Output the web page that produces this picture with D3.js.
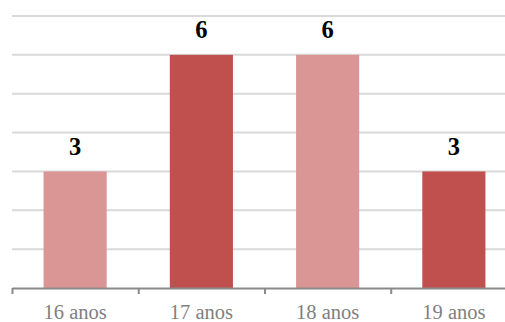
<!DOCTYPE html>
<html>
<head>
<meta charset="utf-8">
<script src="https://cdn.jsdelivr.net/npm/d3@7"></script>
<style>
  html, body { margin: 0; padding: 0; background: #fff; overflow: hidden; }
  svg { display: block; }
</style>
</head>
<body>
<svg id="chart" width="505" height="322"></svg>
<script>
// Age groups and respondent counts
const categories = ["16 anos", "17 anos", "18 anos", "19 anos"];
const counts = [3, 6, 6, 3];
const barColors = ["#D99694", "#C0504D", "#D99694", "#C0504D"];
const gridValues = [1, 2, 3, 4, 5, 6, 7];

const svg = d3.select("#chart");
const left = 12, right = 517, baseY = 288, topY = 16;

const x = d3.scaleBand()
  .domain(categories)
  .range([left, right])
  .paddingInner(0.5)
  .paddingOuter(0.25);

const y = d3.scaleLinear().domain([0, 7]).range([baseY, topY]);

// Horizontal gridlines
svg.append("g")
  .selectAll("line")
  .data(gridValues)
  .join("line")
  .attr("x1", left)
  .attr("x2", 505)
  .attr("y1", d => y(d))
  .attr("y2", d => y(d))
  .attr("stroke", "#D9D9D9")
  .attr("stroke-width", 2);

// Bars
svg.append("g")
  .selectAll("rect")
  .data(counts)
  .join("rect")
  .attr("x", (d, i) => x(categories[i]))
  .attr("y", d => y(d))
  .attr("width", x.bandwidth())
  .attr("height", d => baseY - y(d))
  .attr("fill", (d, i) => barColors[i]);

// Category axis with ticks at band boundaries
const edge = d3.scaleLinear().domain([0, categories.length]).range([left, right]);
const axis = svg.append("g")
  .attr("transform", `translate(0,${baseY})`)
  .call(d3.axisBottom(edge).tickValues(d3.range(categories.length + 1)).tickSize(6).tickSizeOuter(0).tickFormat(""));
axis.select(".domain").attr("stroke", "#898989").attr("stroke-width", 2);
axis.selectAll(".tick line").attr("stroke", "#898989").attr("stroke-width", 2);

// Category labels
svg.append("g")
  .selectAll("text")
  .data(categories)
  .join("text")
  .attr("x", d => x(d) + x.bandwidth() / 2)
  .attr("y", 319)
  .attr("text-anchor", "middle")
  .attr("font-family", "'Liberation Serif', 'Times New Roman', serif")
  .attr("font-size", 20.5)
  .attr("fill", "#7F7F7F")
  .text(d => d);

// Value labels above bars
svg.append("g")
  .selectAll("text")
  .data(counts)
  .join("text")
  .attr("x", (d, i) => x(categories[i]) + x.bandwidth() / 2)
  .attr("y", d => y(d) - 16.5)
  .attr("text-anchor", "middle")
  .attr("font-family", "'Liberation Serif', 'Times New Roman', serif")
  .attr("font-weight", "bold")
  .attr("font-size", 24.5)
  .attr("fill", "#000")
  .text(d => d);
</script>
</body>
</html>
